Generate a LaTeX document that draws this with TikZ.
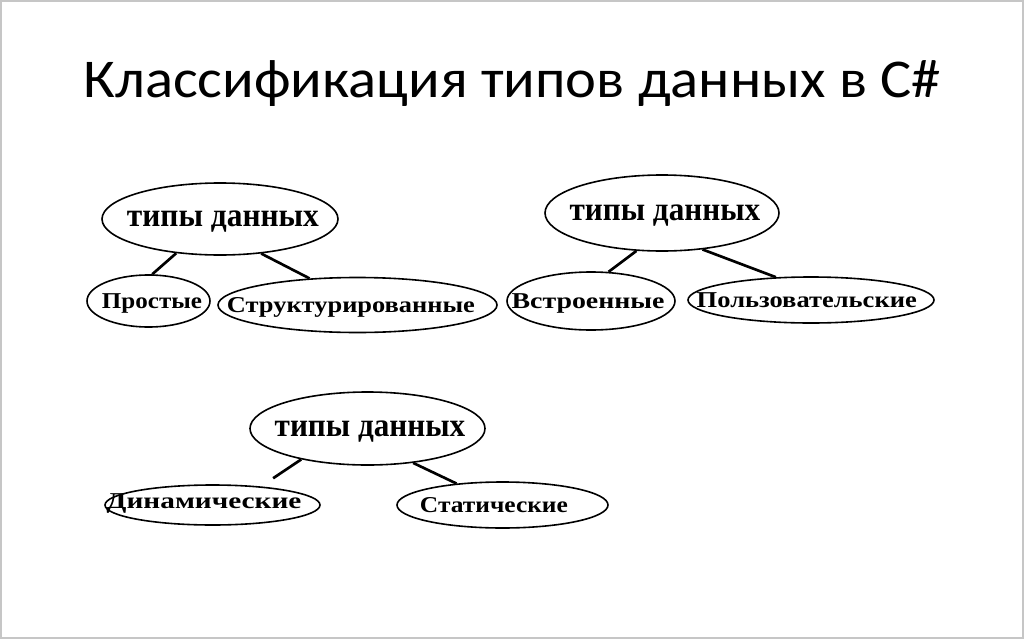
\documentclass[tikz,border=0pt]{standalone}
\usepackage{fontspec}
\usepackage{graphicx}
\setmainfont{Liberation Serif}
\newfontfamily\titlefont{Carlito}
\usetikzlibrary{shapes.geometric}
\newcommand\wfit[3]{\makebox[0pt][c]{\hspace*{#3pt}\resizebox{#1pt}{\height}{#2}\hspace*{-#3pt}}}
\begin{document}
\begin{tikzpicture}[x=0.75pt,y=-0.75pt,
 oval/.style 2 args={ellipse,draw,line width=1.2pt,inner sep=0pt,minimum width=#1*0.75pt,minimum height=#2*0.75pt},
 topoval/.style={font=\bfseries\fontsize{25}{28}\selectfont,text height=11.6pt,text depth=0pt},
 suboval/.style={font=\bfseries\fontsize{17}{20}\selectfont,text height=11.2pt,text depth=0pt},
 link/.style={line width=2pt}]
\useasboundingbox (0,0) rectangle (1024,639);
\draw[gray!45,line width=1pt] (1,1) rectangle (1023,638);

\node[anchor=base,font=\titlefont\fontsize{41}{48}\selectfont] (title) at (512,97) {\resizebox{642.75pt}{\height}{Классификация типов данных в C\#}};

% group 1
\node[oval={236}{72},topoval] (t1) at (220,219) {\wfit{144}{типы данных}{2.2}};
\node[oval={123}{52},suboval] (a1) at (148.5,301) {\wfit{75}{Простые}{2.6}};
\node[oval={279}{55},suboval] (a2) at (357.5,305) {\wfit{186}{Структурированные}{-4.9}};
% group 2
\node[oval={234}{76},topoval] (t2) at (662,213) {\wfit{143}{типы данных}{2.2}};
\node[oval={168}{58},suboval] (b1) at (591,301) {\wfit{114.75}{Встроенные}{-2.2}};
\node[oval={246}{46},suboval] (b2) at (811,300) {\wfit{165}{Пользовательские}{-3.2}};
% group 3
\node[oval={235}{73},topoval] (t3) at (367.5,428.5) {\wfit{143}{типы данных}{1.9}};
\node[oval={215}{40},suboval] (c1) at (212.5,505) {\raisebox{3pt}{\wfit{146.25}{Динамические}{-6.4}}};
\node[oval={211}{46},suboval] (c2) at (502.5,505) {\wfit{111}{Статические}{-6.4}};

\draw[link] (t1.218) -- (a1.82);
\draw[link] (t1.320) -- (a2.151);
\draw[link] (t2.236) -- (b1.59);
\draw[link] (t2.318) -- (b2.147);
\draw[link,shorten >=11pt] (t3.205) -- (c1.21);
\draw[link] (t3.323) -- (c2.155);
\end{tikzpicture}
\end{document}
